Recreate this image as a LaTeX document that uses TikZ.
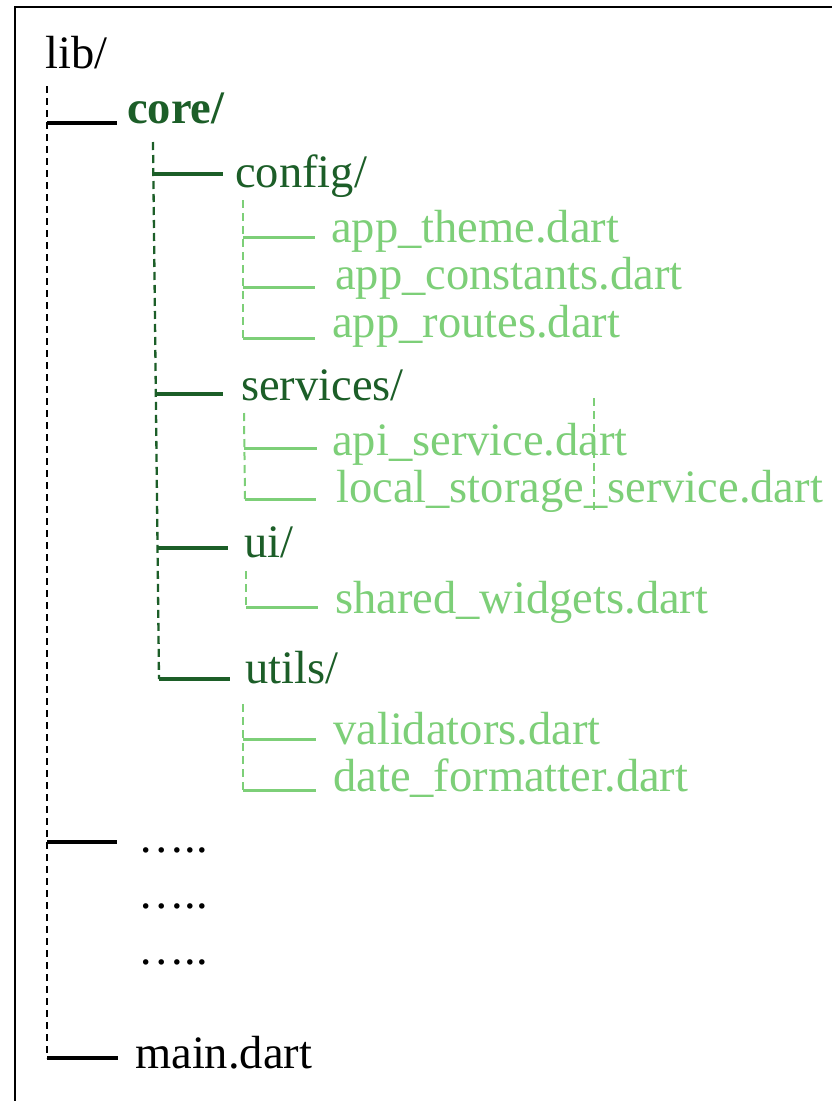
\documentclass[tikz,border=0pt]{standalone}
\usepackage{fontspec}
\setmainfont{Liberation Serif}
\definecolor{dgreen}{RGB}{28,94,40}
\definecolor{lgreen}{RGB}{125,207,120}
\tikzset{
  entry/.style={font=\fontsize{46.5}{52}\selectfont, inner sep=0pt, anchor=base west},
  rootentry/.style={entry, text=black},
  direntry/.style={entry, text=dgreen},
  fileentry/.style={entry, text=lgreen},
  spineK/.style={draw=black, line width=2.5pt, dash pattern=on 7pt off 5pt},
  spineD/.style={draw=dgreen, line width=2.3pt, dash pattern=on 8pt off 5pt},
  spineL/.style={draw=lgreen, line width=2pt, dash pattern=on 8pt off 5pt},
  branchK/.style={draw=black, line width=3.5pt},
  branchD/.style={draw=dgreen, line width=3.2pt},
  branchL/.style={draw=lgreen, line width=3pt},
}
\begin{document}
\begin{tikzpicture}[x=1pt, y=-1pt]
\useasboundingbox (0,0) rectangle (832,1101);
\fill[white] (0,0) rectangle (832,1101);

% outer frame (only top and left edges fall inside the page)
\draw[line width=2.8pt] (15,1101) -- (15,7) -- (832,7);

% ---- labels ----
\node[rootentry] (lib) at (45,68) {lib/};
\node[direntry, font=\fontsize{46.5}{52}\selectfont\bfseries] (core) at (127,123) {core/};
\node[direntry] (config) at (235,187) {config/};
\node[fileentry] (theme) at (331,242) {app\_theme.dart};
\node[fileentry] (consts) at (335,289) {app\_constants.dart};
\node[fileentry] (routes) at (332,337) {app\_routes.dart};
\node[direntry] (services) at (241,400) {services/};
\node[fileentry] (api) at (332,455) {api\_service.dart};
\node[fileentry] (storage) at (336,502) {local\_storage\_service.dart};
\node[direntry] (ui) at (244,557) {ui/};
\node[fileentry] (shared) at (335,613) {shared\_widgets.dart};
\node[direntry] (utils) at (245,683) {utils/};
\node[fileentry] (valid) at (333,744) {validators.dart};
\node[fileentry] (datefmt) at (333,791) {date\_formatter.dart};
\node[rootentry] (more1) at (138,852) {…..};
\node[rootentry] (more2) at (138,908) {…..};
\node[rootentry] (more3) at (138,964) {…..};
\node[rootentry] (main) at (135,1068) {main.dart};

% ---- spine points ----
\coordinate (k-top) at (47,86);
\coordinate (e-core) at (47,123);
\coordinate (e-more) at (47,842);
\coordinate (e-main) at (47,1058);

\coordinate (d-top) at (153,142);
\coordinate (e-config) at (153.4,174);
\coordinate (e-services) at (155.8,394);
\coordinate (e-ui) at (157.5,548);
\coordinate (e-utils) at (159,679);

\coordinate (c-top) at (243,200);
\coordinate (e-theme) at (243,237);
\coordinate (e-consts) at (243,287);
\coordinate (e-routes) at (243,338);

\coordinate (s-top) at (244,413);
\coordinate (e-api) at (244,448);
\coordinate (e-storage) at (245,499);

\coordinate (u-top) at (246,571);
\coordinate (e-shared) at (246,607);

\coordinate (t-top) at (243,704);
\coordinate (e-valid) at (243,739);
\coordinate (e-datefmt) at (243,790);

\coordinate (x-top) at (594,398);
\coordinate (x-bot) at (594,512);

% ---- dashed spines ----
\draw[spineK] (k-top) -- (e-main);
\draw[spineD] (d-top) -- (e-utils);
\draw[spineL] (c-top) -- (e-routes);
\draw[spineL] (s-top) -- (e-storage);
\draw[spineL] (u-top) -- (e-shared);
\draw[spineL] (t-top) -- (e-datefmt);
\draw[spineL] (x-top) -- (x-bot);

% ---- branches ----
\draw[branchK, shorten >=10pt] (e-core) -- (e-core -| core.west);
\draw[branchK, shorten >=21pt] (e-more) -- (e-more -| more1.west);
\draw[branchK, shorten >=17pt] (e-main) -- (e-main -| main.west);

\draw[branchD, shorten >=12pt] (e-config) -- (e-config -| config.west);
\draw[branchD, shorten >=18pt] (e-services) -- (e-services -| services.west);
\draw[branchD, shorten >=16pt] (e-ui) -- (e-ui -| ui.west);
\draw[branchD, shorten >=15pt] (e-utils) -- (e-utils -| utils.west);

\draw[branchL, shorten >=16pt] (e-theme) -- (e-theme -| theme.west);
\draw[branchL, shorten >=20pt] (e-consts) -- (e-consts -| consts.west);
\draw[branchL, shorten >=17pt] (e-routes) -- (e-routes -| routes.west);
\draw[branchL, shorten >=15pt] (e-api) -- (e-api -| api.west);
\draw[branchL, shorten >=20pt] (e-storage) -- (e-storage -| storage.west);
\draw[branchL, shorten >=17pt] (e-shared) -- (e-shared -| shared.west);
\draw[branchL, shorten >=17pt] (e-valid) -- (e-valid -| valid.west);
\draw[branchL, shorten >=17pt] (e-datefmt) -- (e-datefmt -| datefmt.west);
\end{tikzpicture}
\end{document}
